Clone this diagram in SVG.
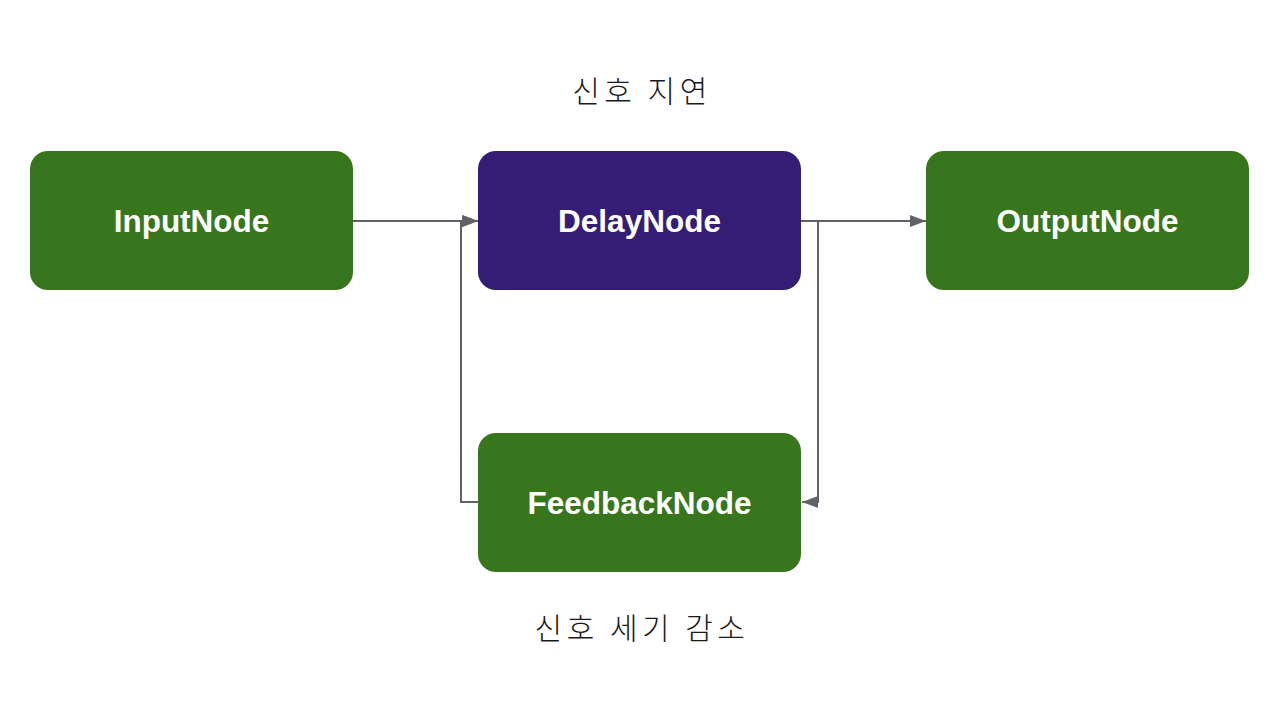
<svg xmlns="http://www.w3.org/2000/svg" width="1280" height="720" viewBox="0 0 1280 720">
<style>
.green{fill:#38761d}
.purple{fill:#351c75}
.lbl{font-family:"Liberation Sans",Arial,sans-serif;font-weight:bold;font-size:31.5px;fill:#ffffff;text-anchor:middle;dominant-baseline:central}
.kr{font-family:"Noto Sans CJK KR","Noto Sans",sans-serif;font-size:30px;fill:#1a1a1a;text-anchor:middle;font-weight:300;letter-spacing:4.5px}
.edge{fill:none;stroke:#5f6368;stroke-width:2}
</style>
<defs>
<marker id="arr" markerWidth="16" markerHeight="12" refX="16" refY="6" orient="auto" markerUnits="userSpaceOnUse">
<path d="M0,0 L16,6 L0,12 Z" fill="#5f6368"/>
</marker>
</defs>
<rect width="1280" height="720" fill="#ffffff"/>
<g id="connectors">
<path class="edge" d="M353,221 L478,221" marker-end="url(#arr)"/>
<path class="edge" d="M801,221 L926,221" marker-end="url(#arr)"/>
<path class="edge" d="M801,221 L818,221 L818,502 L802,502" marker-end="url(#arr)"/>
<path class="edge" d="M478,502 L461,502 L461,221 L478,221" marker-end="url(#arr)"/>
</g>
<g id="InputNode">
<rect class="green" x="30" y="151" width="323" height="139" rx="18"/>
<text class="lbl" x="191.5" y="221">InputNode</text>
</g>
<g id="DelayNode">
<rect class="purple" x="478" y="151" width="323" height="139" rx="18"/>
<text class="lbl" x="639.5" y="221">DelayNode</text>
</g>
<g id="OutputNode">
<rect class="green" x="926" y="151" width="323" height="139" rx="18"/>
<text class="lbl" x="1087.5" y="221">OutputNode</text>
</g>
<g id="FeedbackNode">
<rect class="green" x="478" y="433" width="323" height="139" rx="18"/>
<text class="lbl" x="639.5" y="503">FeedbackNode</text>
</g>
<g id="labels">
<text class="kr" x="642" y="102">신호 지연</text>
<text class="kr" x="642" y="639">신호 세기 감소</text>
</g>
</svg>
